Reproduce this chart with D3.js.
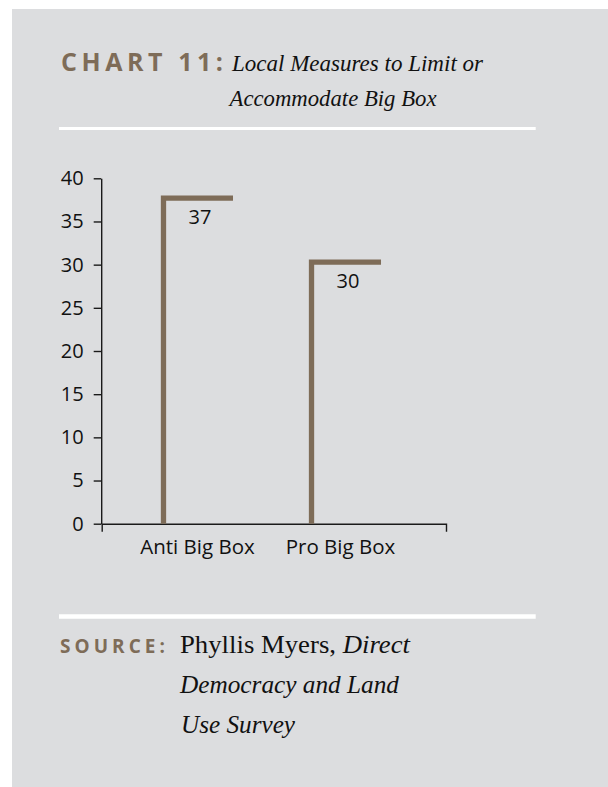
<!DOCTYPE html>
<html>
<head>
<meta charset="utf-8">
<script src="https://cdn.jsdelivr.net/npm/d3@7"></script>
<style>
  html, body { margin: 0; padding: 0; background: #ffffff; }
  svg { display: block; }
</style>
</head>
<body>
<svg id="chart"></svg>
<script>
// chart values
const categories = ["Anti Big Box", "Pro Big Box"]
const values = [37.7, 30.3]
const valueLabels = ["37", "30"]
const yTicks = [0, 5, 10, 15, 20, 25, 30, 35, 40]

const titleLead = "CHART 11:"
const titleLines = ["Local Measures to Limit or", "Accommodate Big Box"]
const sourceLead = "SOURCE:"

function drawChart() {
  const width = 608
  const height = 787
  const brown = "#7e6c58"
  const sans = "'Open Sans', 'Noto Sans', sans-serif"
  const serif = "'Liberation Serif', 'DejaVu Serif', serif"

  const svg = d3.select("#chart").attr("width", width).attr("height", height)

  // grey panel
  svg.append("rect")
    .attr("x", 12).attr("y", 9)
    .attr("width", width - 12).attr("height", height - 9)
    .attr("fill", "#dcdddf")

  // title block
  svg.append("text")
    .attr("x", 61).attr("y", 70.7)
    .attr("textLength", 162).attr("lengthAdjust", "spacing")
    .style("font", `700 25px ${sans}`)
    .attr("fill", brown)
    .text(titleLead)

  svg.selectAll("text.title")
    .data(titleLines)
    .enter()
    .append("text")
    .attr("class", "title")
    .attr("x", (d, i) => i == 0 ? 232 : 229.5)
    .attr("y", (d, i) => i == 0 ? 70.7 : 106)
    .attr("textLength", (d, i) => i == 0 ? 251 : 207)
    .attr("lengthAdjust", "spacingAndGlyphs")
    .style("font", `italic 23.5px ${serif}`)
    .attr("fill", "#111")
    .text(d => d)

  // white rules
  const rules = [{ y: 128.5, w: 3 }, { y: 616.5, w: 4.5 }]
  svg.selectAll("line.rule")
    .data(rules)
    .enter()
    .append("line")
    .attr("class", "rule")
    .attr("x1", 59).attr("x2", 535.7)
    .attr("y1", d => d.y).attr("y2", d => d.y)
    .attr("stroke", "#ffffff")
    .attr("stroke-width", d => d.w)

  // scales
  const y = d3.scaleLinear()
    .domain([0, 40])
    .range([523.7, 178.3])

  const x = d3.scalePoint()
    .domain(categories)
    .range([101.7, 446])
    .padding(0.663)
    .align(0.4855)

  const g = svg.append("g")

  // y axis
  const yAxis = g.append("g")
    .attr("transform", `translate(101.2 0)`)
    .call(d3.axisLeft(y).tickValues(yTicks).tickSize(7.5).tickSizeOuter(0).tickPadding(10))
  yAxis.selectAll("path, line").attr("stroke", "#1a1a1a").attr("stroke-width", 1.4)
  yAxis.selectAll("text")
    .style("font", `400 20px ${sans}`)
    .attr("fill", "#111")

  // x axis, only the end ticks
  const xAxis = g.append("g")
    .attr("transform", `translate(0 ${y(0)})`)
    .call(d3.axisBottom(x).tickValues([]).tickSizeOuter(8))
  xAxis.select("path").attr("stroke", "#1a1a1a").attr("stroke-width", 1.4)

  g.selectAll("text.cat")
    .data(categories)
    .enter()
    .append("text")
    .attr("class", "cat")
    .attr("x", (d, i) => x(d) + (i == 0 ? 0.5 : -4.5))
    .attr("y", 554)
    .attr("text-anchor", "middle")
    .style("font", `400 20.5px ${sans}`)
    .attr("fill", "#111")
    .text(d => d)

  // bars: left and top edges only
  const barW = 69.5
  const stroke = 5.3
  const bars = g.selectAll("g.bar")
    .data(categories.map((c, i) => ({ cat: c, value: values[i], label: valueLabels[i] })))
    .enter()
    .append("g")
    .attr("class", "bar")

  bars.append("path")
    .attr("d", d => {
      const x0 = x(d.cat) - 33.5
      return `M${x0},${y(0)}V${y(d.value)}H${x0 + barW}`
    })
    .attr("fill", "none")
    .attr("stroke", brown)
    .attr("stroke-width", stroke)
    .attr("stroke-linejoin", "miter")
    .attr("stroke-linecap", "butt")

  bars.append("text")
    .attr("x", d => x(d.cat) + 3)
    .attr("y", d => y(d.value) + stroke / 2 + 23.5)
    .attr("text-anchor", "middle")
    .style("font", `400 20px ${sans}`)
    .attr("fill", "#111")
    .text(d => d.label)

  // source block
  svg.append("text")
    .attr("x", 60).attr("y", 652.7)
    .attr("textLength", 105).attr("lengthAdjust", "spacing")
    .style("font", `700 19px ${sans}`)
    .attr("fill", brown)
    .text(sourceLead)

  const src1 = svg.append("text")
    .attr("x", 180).attr("y", 653.3)
    .attr("textLength", 230).attr("lengthAdjust", "spacingAndGlyphs")
    .style("font", `400 25px ${serif}`)
    .attr("fill", "#111")
  src1.append("tspan").text("Phyllis Myers, ")
  src1.append("tspan").style("font-style", "italic").text("Direct")

  svg.append("text")
    .attr("x", 180).attr("y", 693.3)
    .attr("textLength", 219).attr("lengthAdjust", "spacingAndGlyphs")
    .style("font", `italic 25px ${serif}`)
    .attr("fill", "#111")
    .text("Democracy and Land")

  svg.append("text")
    .attr("x", 181).attr("y", 733.3)
    .attr("textLength", 114).attr("lengthAdjust", "spacingAndGlyphs")
    .style("font", `italic 25px ${serif}`)
    .attr("fill", "#111")
    .text("Use Survey")
}

drawChart()
</script>
</body>
</html>
